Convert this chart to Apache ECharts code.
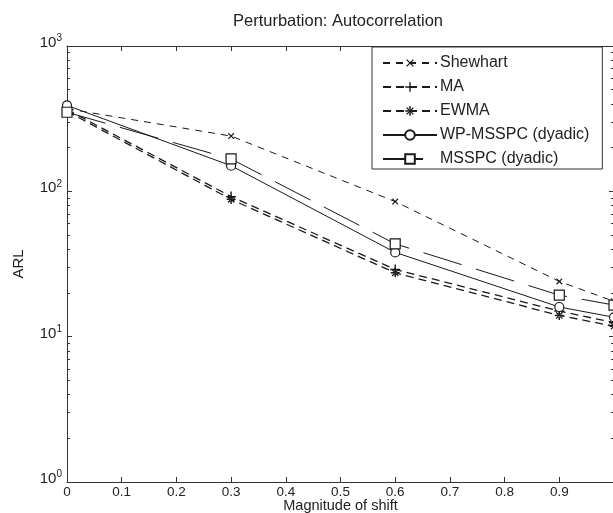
<!DOCTYPE html>
<html>
<head>
<meta charset="utf-8">
<script src="https://cdn.jsdelivr.net/npm/echarts@6/dist/echarts.min.js"></script>
<style>
html,body{margin:0;padding:0;background:#fff;}
#c{width:613px;height:513px;}
</style>
</head>
<body>
<div id="c"></div>
<script>
var shifts = [0, 0.3, 0.6, 0.9, 1.0];
var shewhart = [370, 240, 85, 24, 17.5];
var ma = [365, 92, 29, 15, 12.5];
var ewma = [355, 88, 27.5, 14, 11.8];
var wpMsspc = [390, 150, 38, 16, 13.6];
var msspc = [350, 167, 43.5, 19.3, 16.5];
var seriesNames = ['Shewhart', 'MA', 'EWMA', 'WP-MSSPC (dyadic)', 'MSSPC (dyadic)'];
var yMajor = [1, 10, 100, 1000];
var yMinor = [2,3,4,5,6,7,8,9,20,30,40,50,60,70,80,90,200,300,400,500,600,700,800,900];

function pairs(vals){ return shifts.map(function(x,i){ return [x, vals[i]]; }); }

var FONT = 'Liberation Sans, Arial, Helvetica, sans-serif';
var C = '#1a1a1a';
var plusPath = 'path://M-0.7,-5L0.7,-5L0.7,5L-0.7,5ZM-5,-0.7L5,-0.7L5,0.7L-5,0.7Z';
var starPath = 'path://M-0.8,-5L0.8,-5L0.8,5L-0.8,5ZM-5,-0.8L5,-0.8L5,0.8L-5,0.8ZM-4,-3L3,4L4,3L-3,-4ZM-4,3L-3,4L4,-3L3,-4Z';

var chart = echarts.init(document.getElementById('c'), null, {renderer:'canvas'});

function logAxis(pos, ticks, len, showLabel, showLine){
  return {
    type:'log', logBase:10, min:1, max:1000, position:pos,
    gridIndex:0,
    axisLine:{show:showLine, onZero:false, lineStyle:{color:'#333', width:1}},
    axisTick:{show:true, inside:true, length:len, customValues:ticks, lineStyle:{color:'#333', width:1}},
    minorTick:{show:false},
    splitLine:{show:false},
    axisLabel:{show:showLabel, customValues: yMajor, margin:5,
      formatter:function(v){ var e=Math.round(Math.log10(v)); return '{b|10}{s|'+e+'}'; },
      rich:{ b:{fontSize:15, fontFamily:FONT, color:'#222', padding:[0,0,6,0]},
             s:{fontSize:10, fontFamily:FONT, color:'#222', padding:[0,0,15,0]} }
    }
  };
}

var yAxes = [
  Object.assign(logAxis('left', yMajor, 5, true, true), {name:'ARL', nameLocation:'middle', nameGap:41,
     nameMoveOverlap:false,
     nameTextStyle:{fontSize:15, fontFamily:FONT, color:'#222'}}),
  logAxis('left', yMinor, 3, false, false),
  logAxis('right', yMajor, 5, false, true),
  logAxis('right', yMinor, 3, false, false)
];

function mk(name, vals, dash, width, symbol, size, rotate, empty){
  return {
    name:name, type:'line', xAxisIndex:0, yAxisIndex:0,
    data:pairs(vals),
    lineStyle:{color:C, width:width, type:dash},
    symbol:symbol, symbolSize:size, symbolRotate:rotate||0, showSymbol:true,
    itemStyle: empty ? {color:'#fff', borderColor:C, borderWidth:1.2} : {color:C, borderWidth:0},
    emphasis:{disabled:true}, animation:false, clip:false
  };
}

var option = {
  animation:false,
  backgroundColor:'#fff',
  title:{text:'Perturbation: Autocorrelation', left:333, textAlign:'center', top:8,
    textStyle:{fontSize:16.5, fontWeight:'normal', fontFamily:FONT, color:'#222'}},
  grid:{left:67, top:46, width:547, height:436, containLabel:false, outerBoundsMode:'none'},
  legend:{
    orient:'vertical', left:372, top:47,
    data:seriesNames, selectedMode:false,
    backgroundColor:'#fff', borderColor:'#333', borderWidth:1,
    padding:[8,13,2,10], itemWidth:54, itemHeight:12, itemGap:8,
    textStyle:{fontSize:16, fontFamily:FONT, color:'#222', padding:[0,0,0,-2]}
  },
  xAxis:[
    {type:'value', min:0, max:1, interval:0.1, position:'bottom',
     name:'Magnitude of shift', nameLocation:'middle', nameGap:16, nameMoveOverlap:false,
     nameTextStyle:{fontSize:14.5, fontFamily:FONT, color:'#222', verticalAlign:'top'},
     axisLine:{onZero:false, lineStyle:{color:'#333', width:1}},
     axisTick:{inside:true, length:5, lineStyle:{color:'#333'}},
     splitLine:{show:false},
     axisLabel:{fontSize:13.5, fontFamily:FONT, color:'#222', margin:3, showMaxLabel:false,
       formatter:function(v){ return String(Math.round(v*10)/10); }}},
    {type:'value', min:0, max:1, interval:0.1, position:'top',
     axisLine:{onZero:false, lineStyle:{color:'#333', width:1}},
     axisTick:{inside:true, length:5, lineStyle:{color:'#333'}},
     splitLine:{show:false}, axisLabel:{show:false}}
  ],
  yAxis:yAxes,
  series:[
    mk(seriesNames[0], shewhart, [7,6], 1, plusPath, 8, 45, false),
    mk(seriesNames[1], ma, [8,5], 1.3, plusPath, 10, 0, false),
    mk(seriesNames[2], ewma, [8,5], 1.3, starPath, 9, 0, false),
    mk(seriesNames[3], wpMsspc, 'solid', 1, 'circle', 9, 0, true),
    mk(seriesNames[4], msspc, [40,15], 1, 'rect', 10, 0, true)
  ]
};
chart.setOption(option);
</script>
</body>
</html>
